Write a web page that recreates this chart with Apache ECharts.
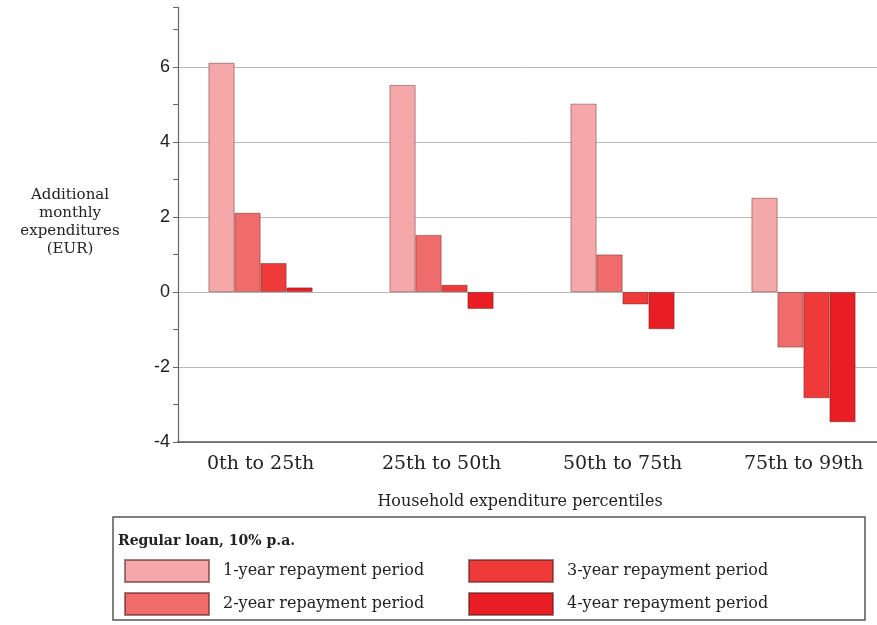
<!DOCTYPE html>
<html>
<head>
<meta charset="utf-8">
<script src="https://cdn.jsdelivr.net/npm/echarts@6/dist/echarts.min.js"></script>
<style>html,body{margin:0;padding:0;background:#fff}#c{width:877px;height:625px}</style>
</head>
<body>
<div id="c"></div>
<script>
const categories = ['0th to 25th', '25th to 50th', '50th to 75th', '75th to 99th'];
const seriesNames = ['1-year repayment period', '2-year repayment period', '3-year repayment period', '4-year repayment period'];
const oneYear = [6.11, 5.52, 5.02, 2.51];
const twoYear = [2.11, 1.52, 1.00, -1.48];
const threeYear = [0.77, 0.19, -0.33, -2.83];
const fourYear = [0.12, -0.45, -0.99, -3.47];
const yTickLabels = ['-4', '-2', '0', '2', '4', '6'];

const colors = ['#f5a8aa', '#ef6b6c', '#ee3b3a', '#e81e24'];
const values = [oneYear, twoYear, threeYear, fourYear];
const serif = 'DejaVu Serif';
const legendPos = [[119, 554], [119, 587], [463, 554], [463, 587]];

const chart = echarts.init(document.getElementById('c'));
chart.setOption({
  animation: false,
  backgroundColor: '#fff',
  grid: { left: 178, right: 0, top: 7, bottom: 183, containLabel: false },
  xAxis: {
    type: 'value',
    min: -0.456, max: 3.406,
    axisLine: { show: true, onZero: false, lineStyle: { color: '#555', width: 1.5 } },
    axisTick: { show: false },
    splitLine: { show: false },
    axisLabel: {
      customValues: categories.map((c, i) => i),
      formatter: v => categories[Math.round(v)] || '',
      fontFamily: serif, fontSize: 19, color: '#222', margin: 13
    },
    name: 'Household expenditure percentiles',
    nameLocation: 'middle',
    nameGap: 52,
    nameTextStyle: { fontFamily: serif, fontSize: 16, color: '#222', padding: [0, 15, 0, 0] }
  },
  yAxis: [{
    type: 'value',
    min: -4, max: 7.6, interval: 1,
    axisLine: { show: true, onZero: false, lineStyle: { color: '#666', width: 1.2 } },
    axisTick: { show: true, length: 5, lineStyle: { color: '#666' } },
    axisLabel: {
      fontFamily: 'Liberation Sans', fontSize: 18, color: '#222', margin: 8,
      formatter: v => yTickLabels.includes(String(v)) ? String(v) : ''
    },
    splitLine: { show: false }
  }, {
    type: 'value',
    position: 'left',
    min: -4, max: 7.6, interval: 2,
    axisLine: { show: false },
    axisTick: { show: false },
    axisLabel: { show: false },
    splitLine: { show: true, showMaxLine: false, lineStyle: { color: '#b8b8b8', width: 1 } }
  }],
  legend: seriesNames.map((n, i) => ({
    left: legendPos[i][0], top: legendPos[i][1],
    icon: 'rect',
    itemWidth: 84, itemHeight: 22,
    data: [n],
    textStyle: { fontFamily: serif, fontSize: 16, color: '#222', padding: [0, 0, 0, 9] }
  })),
  graphic: [
    { type: 'rect', shape: { x: 113, y: 517, width: 752, height: 103 },
      style: { fill: 'none', stroke: '#555', lineWidth: 1.5 }, silent: true },
    { type: 'text', x: 118, y: 541,
      style: { text: 'Regular loan, 10% p.a.', font: 'bold 14px "DejaVu Serif"', fill: '#222', textVerticalAlign: 'middle' } },
    { type: 'text', x: 70, y: 222,
      style: { text: 'Additional\nmonthly\nexpenditures\n(EUR)', font: '15px "DejaVu Serif"', fill: '#222',
        textAlign: 'center', textVerticalAlign: 'middle', lineHeight: 18 } }
  ],
  series: values.map((vals, i) => ({
    name: seriesNames[i],
    type: 'bar',
    yAxisIndex: 0,
    data: vals.map((v, k) => [k, v]),
    barWidth: 26,
    barGap: '0%',
    itemStyle: { color: colors[i], borderColor: 'rgba(90,25,25,0.55)', borderWidth: 0.8 }
  }))
});
</script>
</body>
</html>
